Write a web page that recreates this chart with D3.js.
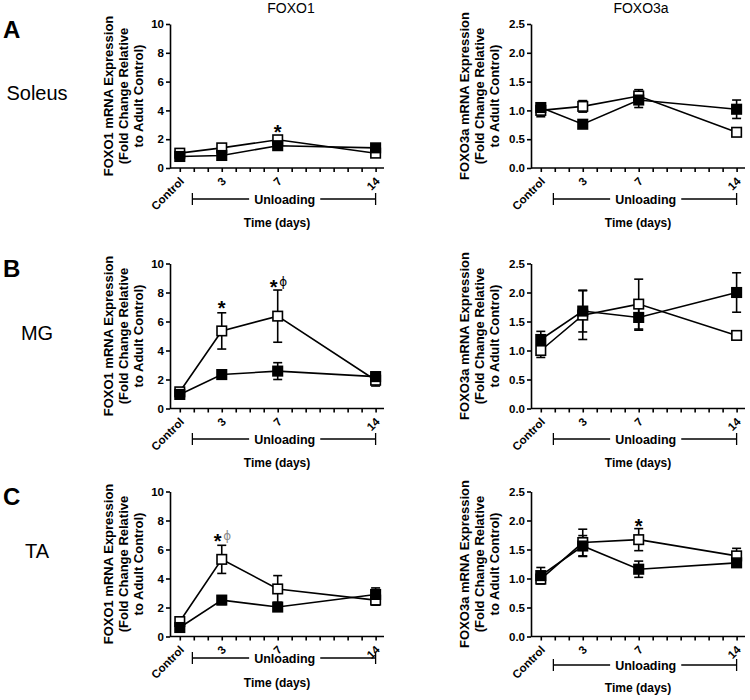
<!DOCTYPE html>
<html><head><meta charset="utf-8">
<script src="https://cdn.jsdelivr.net/npm/d3@7"></script>
<style>
body{margin:0;background:#fff}
svg{display:block}
text{font-family:"Liberation Sans",Arial,Helvetica,sans-serif;fill:#000}
</style>
</head><body><svg id="c" width="750" height="700"></svg>
<script>
// ---------- data ----------
const days = [0, 3, 7, 14];
const dayLabels = ["Control", "3", "7", "14"];
const foxo1Ticks = [0, 2, 4, 6, 8, 10];
const foxo3aTicks = [0, 0.5, 1, 1.5, 2, 2.5];
const geneTitles = ["FOXO1", "FOXO3a"];
const muscles = ["Soleus", "MG", "TA"];
const panelLetters = ["A", "B", "C"];

// Soleus
const solFoxo1Open = [1.03, 1.40, 1.96, 1.03];
const solFoxo1OpenErr = [0.08, 0.10, 0.12, 0.10];
const solFoxo1Filled = [0.80, 0.87, 1.55, 1.40];
const solFoxo1FilledErr = [0.08, 0.08, 0.10, 0.10];
const solFoxo3aOpen = [1.00, 1.07, 1.25, 0.62];
const solFoxo3aOpenErr = [0.11, 0.10, 0.11, 0.03];
const solFoxo3aFilled = [1.05, 0.76, 1.18, 1.02];
const solFoxo3aFilledErr = [0.05, 0.03, 0.13, 0.16];
// MG
const mgFoxo1Open = [1.15, 5.35, 6.37, 1.95];
const mgFoxo1OpenErr = [0.15, 1.25, 1.80, 0.40];
const mgFoxo1Filled = [0.97, 2.34, 2.58, 2.20];
const mgFoxo1FilledErr = [0.10, 0.15, 0.58, 0.30];
const mgFoxo3aOpen = [1.00, 1.61, 1.80, 1.26];
const mgFoxo3aOpenErr = [0.12, 0.42, 0.43, 0.05];
const mgFoxo3aFilled = [1.19, 1.68, 1.57, 2.00];
const mgFoxo3aFilledErr = [0.14, 0.36, 0.22, 0.34];
// TA
const taFoxo1Open = [1.03, 5.32, 3.28, 2.51];
const taFoxo1OpenErr = [0.10, 0.97, 0.92, 0.35];
const taFoxo1Filled = [0.62, 2.51, 2.03, 2.90];
const taFoxo1FilledErr = [0.08, 0.30, 0.15, 0.45];
const taFoxo3aOpen = [0.99, 1.62, 1.67, 1.39];
const taFoxo3aOpenErr = [0.08, 0.23, 0.19, 0.13];
const taFoxo3aFilled = [1.05, 1.56, 1.16, 1.27];
const taFoxo3aFilledErr = [0.14, 0.18, 0.14, 0.04];

// significance marks: [day, value, star, phi]
const solFoxo1Marks = [[7, 2.8, "*", ""]];
const mgFoxo1Marks = [[3, 7.25, "*", ""], [7, 8.7, "*", "ϕ"]];
const taFoxo1Marks = [[3, 6.9, "*", "ϕ"]];
const taFoxo3aMarks = [[7, 1.99, "*", ""]];

// ---------- layout ----------
const rows = [
  {top: 24, h: 144, bracket: [199, 199], time: [227, 227], letterY: 38, muscleY: 100, phiColor: "#000"},
  {top: 263.5, h: 145, bracket: [439, 439], time: [467, 467], letterY: 277, muscleY: 340, phiColor: "#000"},
  {top: 491.5, h: 145, bracket: [658, 665], time: [687, 692], letterY: 505, muscleY: 558, phiColor: "#8a8a8a"}
];
const cols = [
  {axisX: 170, titleX: 291, labelDx: [-62, -47, -32]},
  {axisX: 531, titleX: 641, labelDx: [-67, -52, -37]}
];
const plotW = 214;
const yLabels = [
  ["FOXO1 mRNA Expression", "(Fold Change Relative", "to Adult Control)"],
  ["FOXO3a mRNA Expression", "(Fold Change Relative", "to Adult Control)"]
];

const panels = [
  {r:0,c:0, open: solFoxo1Open, openErr: solFoxo1OpenErr, filled: solFoxo1Filled, filledErr: solFoxo1FilledErr, ticks: foxo1Ticks, marks: solFoxo1Marks},
  {r:0,c:1, open: solFoxo3aOpen, openErr: solFoxo3aOpenErr, filled: solFoxo3aFilled, filledErr: solFoxo3aFilledErr, ticks: foxo3aTicks, marks: []},
  {r:1,c:0, open: mgFoxo1Open, openErr: mgFoxo1OpenErr, filled: mgFoxo1Filled, filledErr: mgFoxo1FilledErr, ticks: foxo1Ticks, marks: mgFoxo1Marks},
  {r:1,c:1, open: mgFoxo3aOpen, openErr: mgFoxo3aOpenErr, filled: mgFoxo3aFilled, filledErr: mgFoxo3aFilledErr, ticks: foxo3aTicks, marks: []},
  {r:2,c:0, open: taFoxo1Open, openErr: taFoxo1OpenErr, filled: taFoxo1Filled, filledErr: taFoxo1FilledErr, ticks: foxo1Ticks, marks: taFoxo1Marks},
  {r:2,c:1, open: taFoxo3aOpen, openErr: taFoxo3aOpenErr, filled: taFoxo3aFilled, filledErr: taFoxo3aFilledErr, ticks: foxo3aTicks, marks: taFoxo3aMarks}
];

const svg = d3.select("#c");

// titles
cols.forEach((c, i) => {
  svg.append("text").attr("x", c.titleX).attr("y", 13).attr("text-anchor", "middle")
    .style("font-size", "14px").text(geneTitles[i]);
});
// row letters and muscle names
rows.forEach((r, i) => {
  svg.append("text").attr("x", 3).attr("y", r.letterY)
    .style("font-size", "24px").style("font-weight", "bold").text(panelLetters[i]);
  svg.append("text").attr("x", 37).attr("y", r.muscleY).attr("text-anchor", "middle")
    .style("font-size", "20px").text(muscles[i]);
});

const SW = 1.6;
panels.forEach(p => {
  const r = rows[p.r], c = cols[p.c];
  const x = d3.scaleLinear().domain([-0.7, 14.6]).range([0, plotW]);
  const yMax = p.ticks[p.ticks.length - 1];
  const y = d3.scaleLinear().domain([0, yMax]).range([r.h, 0]);
  const g = svg.append("g").attr("transform", `translate(${c.axisX},${r.top})`);

  // y axis
  const ya = g.append("g").call(d3.axisLeft(y).tickValues(p.ticks).tickSize(4).tickSizeOuter(0).tickPadding(2)
    .tickFormat(yMax > 5 ? d3.format("d") : d3.format(".1f")));
  ya.select(".domain").attr("stroke-width", SW);
  ya.selectAll(".tick line").attr("stroke-width", SW);
  ya.selectAll("text").style("font-size", "11.5px").style("font-weight", "bold")
    .style("font-family", "'Liberation Sans',Arial,sans-serif");

  // x axis
  const xa = g.append("g").attr("transform", `translate(0,${r.h})`)
    .call(d3.axisBottom(x).tickValues(d3.range(0, 15)).tickSize(4).tickSizeOuter(0).tickFormat(""));
  xa.select(".domain").attr("d", `M0,0H${plotW}`).attr("stroke-width", SW);
  xa.selectAll(".tick line").attr("stroke-width", SW);

  // rotated day labels
  days.forEach((d, i) => {
    g.append("text").attr("transform", `translate(${x(d) + 5},${r.h + 14}) rotate(-45)`)
      .attr("text-anchor", "end").style("font-size", "11.5px").style("font-weight", "bold")
      .text(dayLabels[i]);
  });

  // unloading bracket
  const by = r.bracket[p.c] - r.top;
  const bx0 = x(0.9), bx1 = x(14);
  const ut = g.append("text").attr("x", x(7.5)).attr("y", by + 4.5).attr("text-anchor", "middle")
    .style("font-size", "12.5px").style("font-weight", "bold").text("Unloading");
  const tw = ut.node().getComputedTextLength();
  const bl = g.append("g").attr("stroke", "#000").attr("stroke-width", 1.3);
  bl.append("line").attr("x1", bx0).attr("x2", x(7.5) - tw / 2 - 5).attr("y1", by).attr("y2", by);
  bl.append("line").attr("x1", x(7.5) + tw / 2 + 5).attr("x2", bx1).attr("y1", by).attr("y2", by);
  bl.append("line").attr("x1", bx0).attr("x2", bx0).attr("y1", by - 6).attr("y2", by + 6);
  bl.append("line").attr("x1", bx1).attr("x2", bx1).attr("y1", by - 6).attr("y2", by + 6);

  g.append("text").attr("x", plotW / 2).attr("y", r.time[p.c] - r.top).attr("text-anchor", "middle")
    .style("font-size", "12px").style("font-weight", "bold").text("Time (days)");

  // y label
  yLabels[p.c].forEach((t, i) => {
    g.append("text").attr("transform", `translate(${c.labelDx[i]},${r.h / 2}) rotate(-90)`)
      .attr("text-anchor", "middle").attr("dy", "0.36em")
      .style("font-size", "13px").style("font-weight", "bold").text(t);
  });

  // series
  const series = [
    {v: p.open, e: p.openErr, fill: "#fff"},
    {v: p.filled, e: p.filledErr, fill: "#000"}
  ];
  const line = d3.line().x((d, i) => x(days[i])).y(d => y(d));
  series.forEach(s => {
    g.append("path").attr("d", line(s.v)).attr("fill", "none").attr("stroke", "#000").attr("stroke-width", SW);
  });
  series.forEach(s => {
    const eb = g.append("g").attr("stroke", "#000").attr("stroke-width", SW);
    s.v.forEach((v, i) => {
      const cx = x(days[i]), lo = y(v - s.e[i]), hi = y(v + s.e[i]);
      eb.append("line").attr("x1", cx).attr("x2", cx).attr("y1", lo).attr("y2", hi);
      eb.append("line").attr("x1", cx - 4.5).attr("x2", cx + 4.5).attr("y1", lo).attr("y2", lo);
      eb.append("line").attr("x1", cx - 4.5).attr("x2", cx + 4.5).attr("y1", hi).attr("y2", hi);
    });
  });
  const ms = 9.5;
  series.forEach(s => {
    g.append("g").selectAll("rect").data(s.v).join("rect")
      .attr("x", (d, i) => x(days[i]) - ms / 2).attr("y", d => y(d) - ms / 2)
      .attr("width", ms).attr("height", ms)
      .attr("fill", s.fill).attr("stroke", "#000").attr("stroke-width", SW);
  });

  // significance marks
  p.marks.forEach(m => {
    const cx = x(m[0]), cy = y(m[1]);
    const off = m[3] ? -4 : 0;
    g.append("text").attr("x", cx + off).attr("y", cy + 11.5).attr("text-anchor", "middle")
      .style("font-size", "20px").style("font-weight", "bold").text(m[2]);
    if (m[3]) {
      g.append("text").attr("x", cx + 5.5).attr("y", cy + 4).attr("text-anchor", "middle")
        .style("font-family", "'DejaVu Sans',sans-serif").style("font-size", "12px")
        .style("fill", r.phiColor).text(m[3]);
    }
  });
});
</script>
</body></html>
